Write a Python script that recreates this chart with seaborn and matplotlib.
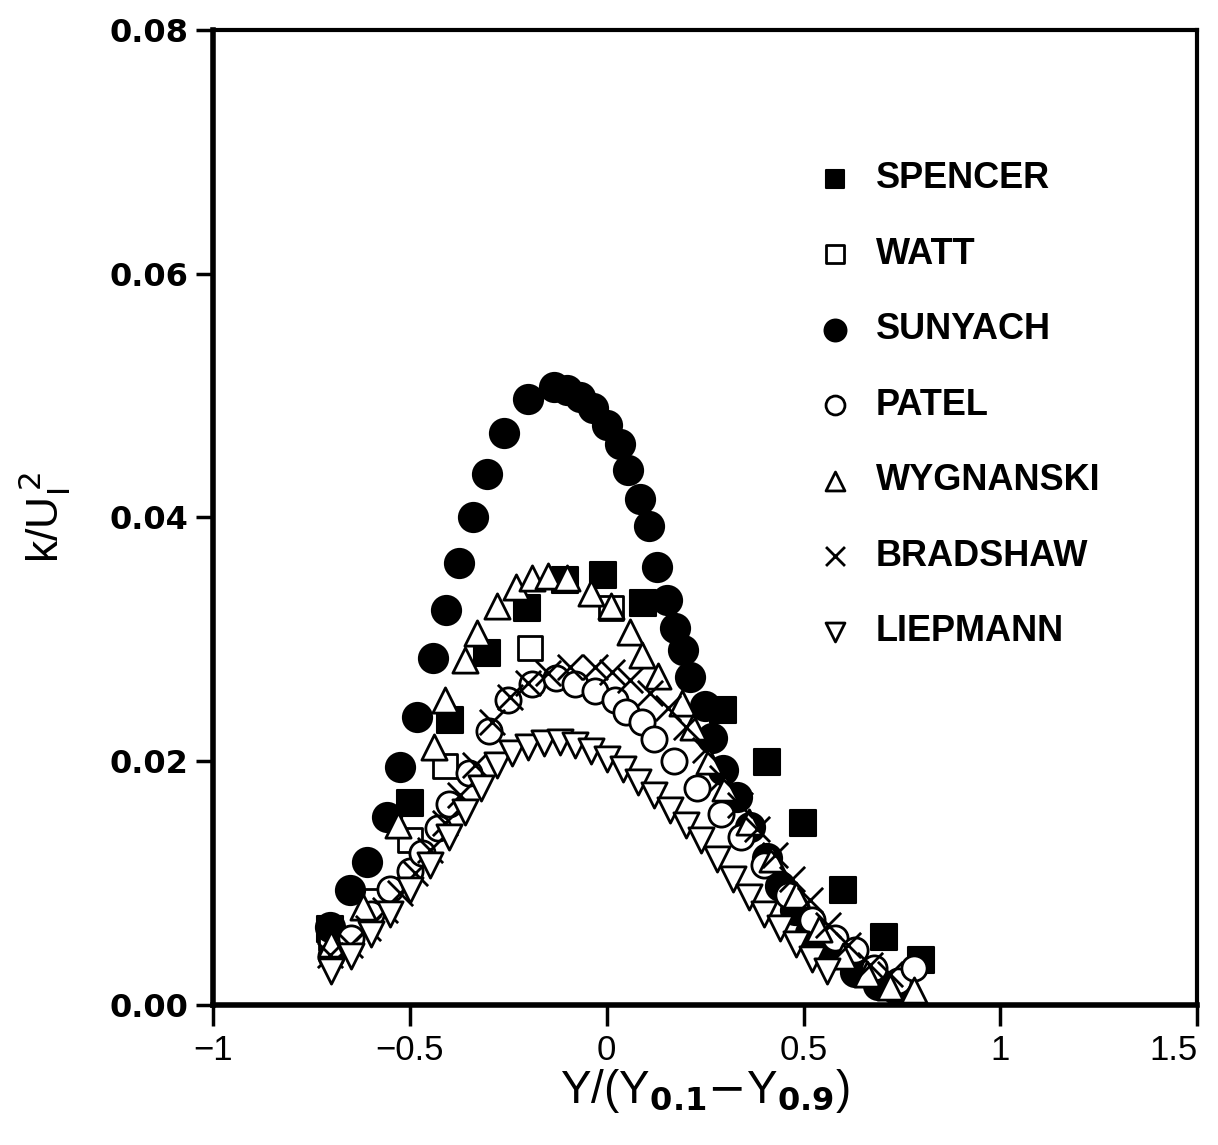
import matplotlib
matplotlib.use("Agg")
import matplotlib.pyplot as plt
import seaborn as sns
import numpy as np

# ---- data ----
spencer_x = [-0.703, -0.499, -0.398, -0.304, -0.202, -0.106, -0.009, 0.093, 0.296, 0.407, 0.499, 0.601, 0.703, 0.797]
spencer_y = [0.0062, 0.0166, 0.0234, 0.0289, 0.0326, 0.0349, 0.0353, 0.0330, 0.0242, 0.0199, 0.0149, 0.0094, 0.0056, 0.0037]

watt_x = [-0.70, -0.60, -0.50, -0.41, -0.195, 0.01]
watt_y = [0.0055, 0.0085, 0.0135, 0.0196, 0.0293, 0.0326]

sunyach_x = [-0.703, -0.652, -0.609, -0.558, -0.525, -0.482, -0.441, -0.408, -0.375, -0.340, -0.304,
             -0.261, -0.200, -0.134, -0.101, -0.068, -0.035, 0.001, 0.034, 0.054, 0.085, 0.106,
             0.128, 0.153, 0.174, 0.194, 0.212, 0.250, 0.268, 0.296, 0.331, 0.364, 0.408, 0.441,
             0.479, 0.517, 0.568, 0.631, 0.690, 0.738]
sunyach_y = [0.0064, 0.0094, 0.0117, 0.0154, 0.0195, 0.0236, 0.0285, 0.0324, 0.0363, 0.0400, 0.0436,
             0.0469, 0.0497, 0.0507, 0.0505, 0.0499, 0.0490, 0.0476, 0.0460, 0.0439, 0.0415, 0.0393,
             0.0359, 0.0332, 0.0309, 0.0291, 0.0269, 0.0245, 0.0219, 0.0193, 0.0171, 0.0146, 0.0121, 0.0098,
             0.0078, 0.0059, 0.0041, 0.0027, 0.0016, 0.0012]

patel_x = [-0.70, -0.65, -0.60, -0.55, -0.50, -0.47, -0.43, -0.40, -0.35, -0.30, -0.25, -0.19, -0.13,
           -0.08, -0.03, 0.02, 0.05, 0.09, 0.12, 0.17, 0.23, 0.29, 0.34, 0.40, 0.46, 0.52, 0.58, 0.63,
           0.68, 0.74, 0.78]
patel_y = [0.0040, 0.0055, 0.0075, 0.0095, 0.0110, 0.0125, 0.0145, 0.0165, 0.0190, 0.0225, 0.0250, 0.0263,
           0.0268, 0.0263, 0.0258, 0.0250, 0.0240, 0.0232, 0.0218, 0.0200, 0.0178, 0.0157, 0.0138, 0.0115,
           0.0090, 0.0070, 0.0055, 0.0045, 0.0030, 0.0020, 0.0030]

wyg_x = [-0.70, -0.62, -0.53, -0.44, -0.41, -0.36, -0.33, -0.28, -0.23, -0.19, -0.15, -0.10, -0.04,
         0.01, 0.06, 0.09, 0.13, 0.19, 0.22, 0.26, 0.30, 0.36, 0.42, 0.48, 0.54, 0.60, 0.66, 0.72, 0.78]
wyg_y = [0.0050, 0.0080, 0.0148, 0.0212, 0.0250, 0.0283, 0.0305, 0.0327, 0.0343, 0.0350, 0.0352, 0.0350,
         0.0338, 0.0327, 0.0306, 0.0287, 0.0270, 0.0248, 0.0228, 0.0200, 0.0178, 0.0150, 0.0120, 0.0090,
         0.0062, 0.0040, 0.0025, 0.0015, 0.0012]

brad_x = [-0.703, -0.652, -0.606, -0.563, -0.525, -0.487, -0.449, -0.411, -0.372, -0.334, -0.291, -0.245,
          -0.200, -0.149, -0.093, -0.030, 0.014, 0.059, 0.110, 0.156, 0.200, 0.250, 0.293, 0.339, 0.382,
          0.428, 0.471, 0.517, 0.562, 0.613, 0.669, 0.720]
brad_y = [0.0041, 0.0049, 0.0063, 0.0078, 0.0092, 0.0108, 0.0127, 0.0149, 0.0172, 0.0197, 0.0232, 0.0253,
          0.0264, 0.0272, 0.0277, 0.0277, 0.0273, 0.0267, 0.0256, 0.0244, 0.0228, 0.0209, 0.0186, 0.0164,
          0.0144, 0.0123, 0.0103, 0.0086, 0.0066, 0.0049, 0.0033, 0.0025]

liep_x = [-0.70, -0.65, -0.60, -0.55, -0.50, -0.45, -0.40, -0.36, -0.32, -0.28, -0.24, -0.20, -0.16,
          -0.12, -0.08, -0.04, 0.00, 0.04, 0.08, 0.12, 0.16, 0.20, 0.24, 0.28, 0.32, 0.36, 0.40, 0.44,
          0.48, 0.52, 0.56]
liep_y = [0.0028, 0.0040, 0.0058, 0.0075, 0.0094, 0.0115, 0.0138, 0.0158, 0.0178, 0.0197, 0.0207, 0.0212,
          0.0215, 0.0216, 0.0213, 0.0208, 0.0202, 0.0194, 0.0183, 0.0172, 0.0160, 0.0148, 0.0135, 0.0120,
          0.0103, 0.0089, 0.0075, 0.0063, 0.0050, 0.0038, 0.0028]

x_ticks = [-1, -0.5, 0, 0.5, 1, 1.5]
x_ticklabels = ["\u22121", "\u22120.5", "0", "0.5", "1", "1.5"]
y_ticks = [0.00, 0.02, 0.04, 0.06, 0.08]
y_ticklabels = ["0.00", "0.02", "0.04", "0.06", "0.08"]

# ---- plotting ----
sns.set_theme(style="white")
plt.rcParams['font.family'] = ['Liberation Sans', 'DejaVu Sans']
plt.rcParams['text.color'] = 'black'
plt.rcParams['axes.labelcolor'] = 'black'
plt.rcParams['xtick.color'] = 'black'
plt.rcParams['ytick.color'] = 'black'

fig = plt.figure(figsize=(12.18, 11.45), dpi=100)
ax = fig.add_axes([0.175, 0.1223, 0.808, 0.8515])

series = [
    ("SPENCER", spencer_x, spencer_y, "s", "black", "black", 330, 1.5),
    ("WATT", watt_x, watt_y, "s", "white", "black", 300, 2.0),
    ("SUNYACH", sunyach_x, sunyach_y, "o", "black", "black", 440, 1.5),
    ("PATEL", patel_x, patel_y, "o", "white", "black", 330, 2.0),
    ("WYGNANSKI", wyg_x, wyg_y, "^", "white", "black", 330, 2.0),
    ("BRADSHAW", brad_x, brad_y, "x", "black", "black", 330, 2.0),
    ("LIEPMANN", liep_x, liep_y, "v", "white", "black", 330, 2.0),
]

for name, xs, ys, mk, fc, ec, s, lw in series:
    if mk == "x":
        sns.scatterplot(x=xs, y=ys, marker=mk, s=s, color="black", linewidth=lw,
                        label=name, ax=ax, zorder=3)
    else:
        sns.scatterplot(x=xs, y=ys, marker=mk, s=s, facecolor=fc, edgecolor=ec,
                        linewidth=lw, label=name, ax=ax, zorder=3)

ax.set_xlim(-1, 1.5)
ax.set_ylim(0, 0.08)
ax.set_xticks(x_ticks)
ax.set_xticklabels(x_ticklabels, fontsize=25)
ax.get_xticklabels()[-1].set_horizontalalignment("right")
ax.get_xticklabels()[-1].set_x(1.5)
ax.set_yticks(y_ticks)
ax.set_yticklabels(y_ticklabels, fontsize=23, fontweight="bold", family="DejaVu Sans")

for sp in ax.spines.values():
    sp.set_visible(True)
    sp.set_color("black")
    sp.set_linewidth(3)
ax.spines['left'].set_linewidth(4)
ax.spines['bottom'].set_linewidth(4)

ax.tick_params(axis="x", direction="out", length=15, width=2.5, bottom=True, pad=6, colors="black")
ax.tick_params(axis="y", direction="out", length=12, width=2.5, left=True, pad=6, colors="black")

ax.set_xlabel(r"Y/(Y$_{\mathbf{0.1}}$$-$Y$_{\mathbf{0.9}}$)", fontsize=33, labelpad=0, color="black")
ax.set_ylabel(r"k/U$_{\mathrm{I}}^{\,2}$", fontsize=32, labelpad=26, color="black")

leg = ax.legend(loc="upper left", bbox_to_anchor=(0.58, 0.88), frameon=False,
                fontsize=26, labelspacing=1.12, handletextpad=0.15, markerscale=0.75,
                borderaxespad=0)
for t in leg.get_texts():
    t.set_fontweight("bold")
    t.set_color("black")

fig.savefig("out.png", dpi=100, facecolor="white")
